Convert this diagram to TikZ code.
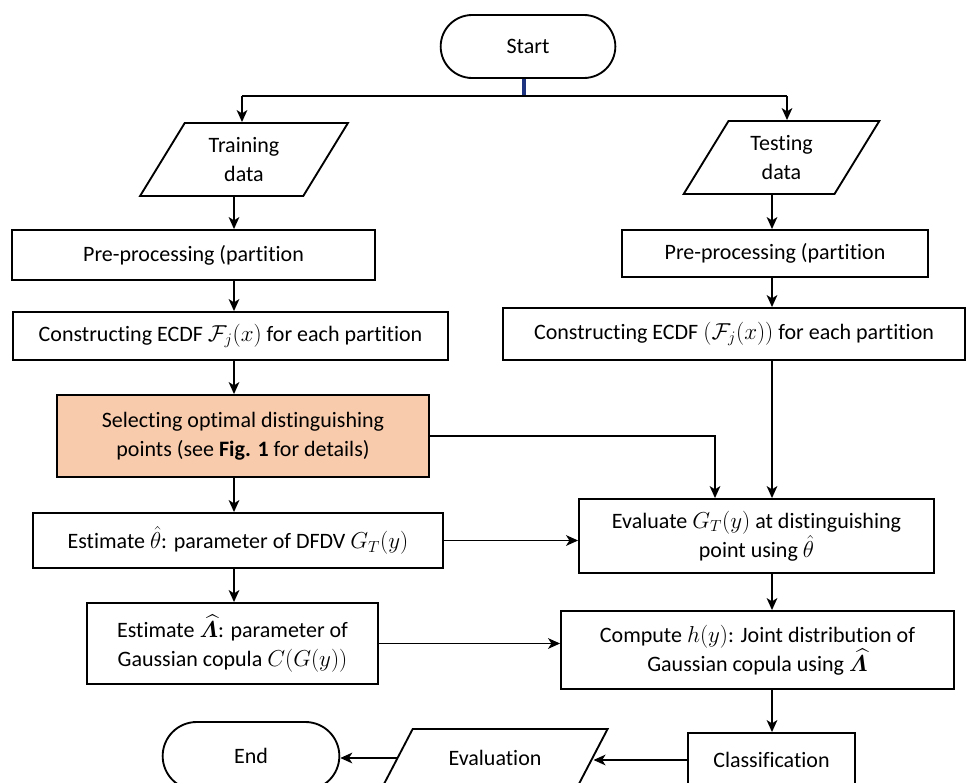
\documentclass[tikz,border=0pt]{standalone}
\usepackage{amsmath}
\usepackage{bm}
\usepackage[no-math]{fontspec}
\setmainfont{Carlito}[Ligatures=NoCommon]
\usetikzlibrary{shapes.geometric,shapes.misc,arrows.meta}
\definecolor{peach}{HTML}{F8CBAD}
\definecolor{navyline}{HTML}{1F3480}
\begin{document}
\begin{tikzpicture}[x=0.75pt,y=-0.75pt,
  every node/.style={font=\fontsize{16.5}{21.75}\selectfont, align=center, inner sep=2pt},
  box/.style={draw, line width=1.4pt, rectangle},
  term/.style={draw, line width=1.4pt, rounded rectangle},
  iobox/.style={draw, line width=1.4pt, trapezium, trapezium left angle=60, trapezium right angle=120, trapezium stretches=true},
  conn/.style={line width=1.3pt},
  arr/.style={line width=1.3pt, -{Stealth[length=9pt,width=8pt,inset=2.5pt]}}
]
\useasboundingbox (0,0) rectangle (967,782);

% nodes
\node[term, minimum width=135pt, minimum height=47.25pt] (start) at (528,46.5) {Start};
\node[iobox, minimum width=156pt, minimum height=54.75pt] (train) at (244,159.5) {Training\\data};
\node[iobox, minimum width=147.75pt, minimum height=54.75pt] (test) at (781.5,157.5) {Testing\\data};
\node[box, minimum width=272.25pt, minimum height=37.5pt] (pre1) at (193.5,255) {Pre-processing (partition};
\node[box, minimum width=229.5pt, minimum height=35.25pt] (pre2) at (775,253.5) {Pre-processing (partition};
\node[box, minimum width=326.25pt, minimum height=36pt] (cons1) at (230.5,336) {Constructing ECDF $\mathcal{F}_j(x)$ for each partition};
\node[box, minimum width=346.5pt, minimum height=39pt] (cons2) at (734,334) {Constructing ECDF $(\mathcal{F}_j(x))$ for each partition};
\node[box, fill=peach, minimum width=279pt, minimum height=61.5pt] (sel) at (243,436) {Selecting optimal distinguishing\\points (see \textbf{Fig. 1} for details)};
\node[box, minimum width=307.5pt, minimum height=41.25pt] (theta) at (238,540.5) {Estimate $\hat{\theta}$: parameter of DFDV $G_T(y)$};
\node[box, minimum width=266.25pt, minimum height=55.5pt] (evg) at (756.5,536) {Evaluate $G_T(y)$ at distinguishing\\point using $\hat{\theta}$};
\node[box, minimum width=218.25pt, minimum height=60.75pt] (lam) at (232.5,643.5) {Estimate $\widehat{\bm{\varLambda}}$: parameter of\\Gaussian copula $C(G(y))$};
\node[box, minimum width=294.75pt, minimum height=58.5pt] (comp) at (757.5,650) {Compute $h(y)$: Joint distribution of\\Gaussian copula using $\widehat{\bm{\varLambda}}$};
\node[box, minimum width=125.25pt, minimum height=40.5pt] (cls) at (771.5,760) {Classification};
\node[iobox, trapezium left angle=49, trapezium right angle=131, minimum width=169.5pt, minimum height=43.5pt] (evl) at (495,758) {Evaluation};
\node[term, minimum width=136.5pt, minimum height=51pt] (end) at (251,756) {End};

% helper coordinates
\coordinate (split) at (524,96);
\coordinate (tl) at (242,96);
\coordinate (tr) at (787,96);
\coordinate (lx) at (234,0);
\coordinate (rx) at (772,0);
\coordinate (selx) at (715,0);

% connectors
\draw[navyline, line width=3pt] (start.south -| split) -- (split);
\draw[conn] (tl) -- (tr);
\draw[arr] (tl) -- (tl |- train.north);
\draw[arr] (tr) -- (tr |- test.north);
\draw[arr] (lx |- train.south) -- (lx |- pre1.north);
\draw[arr] (lx |- pre1.south) -- (lx |- cons1.north);
\draw[arr] (lx |- cons1.south) -- (lx |- sel.north);
\draw[arr] (lx |- sel.south) -- (lx |- theta.north);
\draw[arr] (lx |- theta.south) -- (lx |- lam.north);
\draw[arr] (rx |- test.south) -- (rx |- pre2.north);
\draw[arr] (rx |- pre2.south) -- (rx |- cons2.north);
\draw[arr] (rx |- cons2.south) -- (rx |- evg.north);
\draw[arr] (sel.east) -| (selx |- evg.north);
\draw[arr] (theta.east) -- (theta.east -| evg.west);
\draw[arr] (rx |- evg.south) -- (rx |- comp.north);
\draw[arr] (lam.east) -- (lam.east -| comp.west);
\draw[arr] (rx |- comp.south) -- (rx |- cls.north);
\draw[arr] (cls.west) -- (cls.west -| evl.east);
\draw[arr] (evl.west) -- (evl.west -| end.east);
\end{tikzpicture}
\end{document}
